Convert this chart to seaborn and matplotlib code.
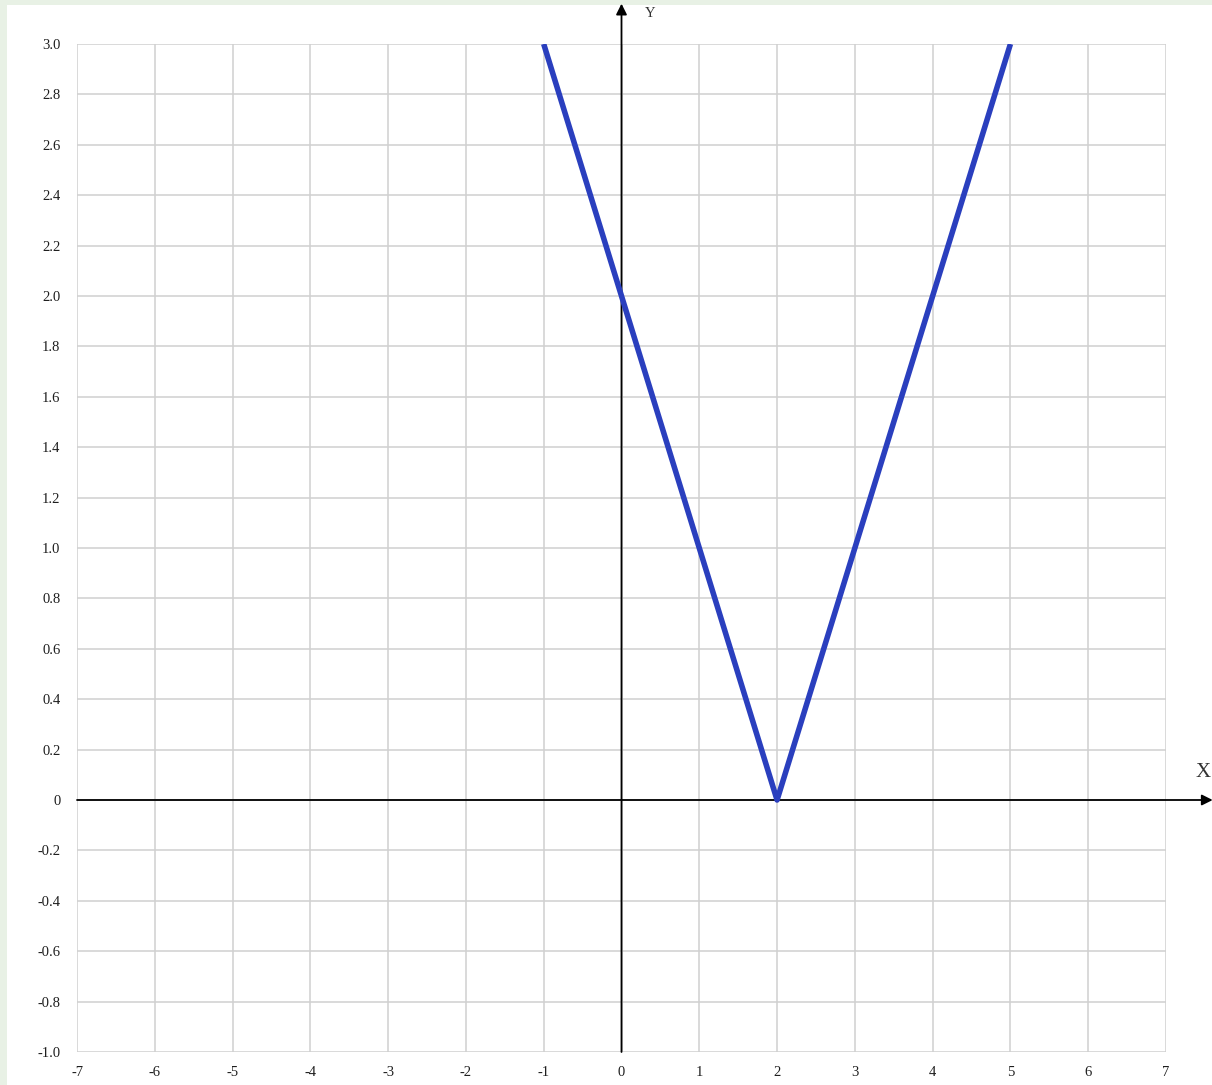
import matplotlib
matplotlib.use("Agg")
import matplotlib.pyplot as plt
import seaborn as sns
import pandas as pd

# V-shaped graph y = |x - 2| on the visible window
x_vals = [-1, 2, 5]
y_vals = [3, 0, 3]

x_ticks = [-7, -6, -5, -4, -3, -2, -1, 0, 1, 2, 3, 4, 5, 6, 7]
x_tick_labels = [str(v) for v in x_ticks]
y_ticks = [3.0, 2.8, 2.6, 2.4, 2.2, 2.0, 1.8, 1.6, 1.4, 1.2, 1.0, 0.8, 0.6, 0.4,
           0.2, 0.0, -0.2, -0.4, -0.6, -0.8, -1.0]
y_tick_labels = ["3.0", "2.8", "2.6", "2.4", "2.2", "2.0", "1.8", "1.6", "1.4", "1.2",
                 "1.0", "0.8", "0.6", "0.4", "0.2", "0", "-0.2", "-0.4", "-0.6",
                 "-0.8", "-1.0"]

sns.set_style("white")
plt.rcParams["font.family"] = ["Liberation Serif", "DejaVu Serif"]
plt.rcParams["axes.unicode_minus"] = False

W, H = 1212, 1085
fig = plt.figure(figsize=(W / 100, H / 100), dpi=100, facecolor="#e8f1e5")
# white page inside the light green border
page = plt.Rectangle((7 / W, 0), 1, 1 - 5 / H, transform=fig.transFigure,
                     facecolor="white", edgecolor="none", zorder=-10)
fig.patches.append(page)

ax = fig.add_axes([77 / W, 1 - 1052 / H, (1166 - 77) / W, (1052 - 44) / H])
ax.set_zorder(1)
ax.set_facecolor("white")

df = pd.DataFrame({"x": x_vals, "y": y_vals})
sns.lineplot(data=df, x="x", y="y", ax=ax, color="#2a3fbe", linewidth=4.0,
             solid_joinstyle="round", solid_capstyle="butt", zorder=5, sort=False)

ax.set_xlim(-7, 7)
ax.set_ylim(-1, 3)
ax.set_xticks(x_ticks)
ax.set_xticklabels(x_tick_labels)
ax.set_yticks(y_ticks)
ax.set_yticklabels(y_tick_labels)
ax.grid(True, color="#d0d0d0", linewidth=1.1)
ax.tick_params(axis="both", length=0, labelsize=10.5, colors="#1e1e1e")
ax.tick_params(axis="y", pad=12)
ax.tick_params(axis="x", pad=10)
for s in ax.spines.values():
    s.set_visible(False)
ax.set_xlabel("")
ax.set_ylabel("")

# coordinate axes with arrowheads
ax.annotate("", xy=(7.6, 0), xytext=(-7, 0), xycoords="data",
            arrowprops=dict(arrowstyle="-|>", color="black", lw=1.3,
                            mutation_scale=16, shrinkA=0, shrinkB=0),
            annotation_clip=False, zorder=4)
ax.annotate("", xy=(0, 3.16), xytext=(0, -1), xycoords="data",
            arrowprops=dict(arrowstyle="-|>", color="black", lw=1.3,
                            mutation_scale=16, shrinkA=0, shrinkB=0),
            annotation_clip=False, zorder=4)
ax.text(7.48, 0.11, "X", fontsize=15, ha="center", va="center", color="#333333")
ax.text(0.37, 3.12, "Y", fontsize=10.5, ha="center", va="center", color="#333333")

fig.savefig("out.png", dpi=100, facecolor=fig.get_facecolor())
